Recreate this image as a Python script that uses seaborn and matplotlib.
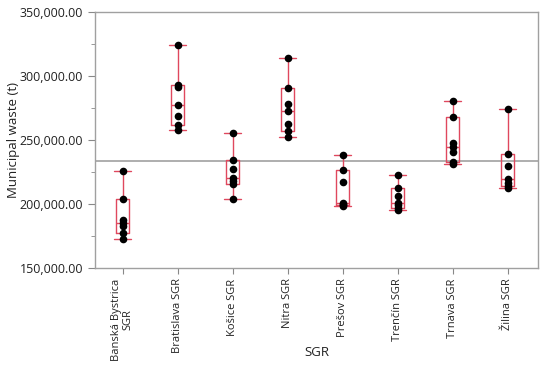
import numpy as np
import pandas as pd
import matplotlib
matplotlib.use("Agg")
import matplotlib.pyplot as plt
import matplotlib.ticker as mticker
import seaborn as sns

categories = ["Banská Bystrica\nSGR", "Bratislava SGR", "Košice SGR", "Nitra SGR",
              "Prešov SGR", "Trenčín SGR", "Trnava SGR", "Žilina SGR"]
banska = [225600, 203900, 187200, 185100, 182700, 177200, 172700]
bratislava = [324000, 293000, 291500, 277000, 268500, 261500, 258000]
kosice = [255800, 234700, 227600, 220400, 217700, 215900, 204000]
nitra = [314300, 290500, 278000, 272800, 262700, 257400, 252200]
presov = [238400, 226600, 217200, 200500, 199800, 199200, 198400]
trencin = [223000, 212500, 206600, 201000, 199200, 197100, 195200]
trnava = [280400, 268000, 247600, 244700, 241000, 232500, 231500]
zilina = [274600, 238900, 229600, 219600, 216400, 213700, 212500]
series = [banska, bratislava, kosice, nitra, presov, trencin, trnava, zilina]

rows = []
for cat, vals in zip(categories, series):
    for v in vals:
        rows.append({"SGR": cat, "waste": v})
df = pd.DataFrame(rows)

sns.set_style("white")
plt.rcParams["font.family"] = ["Open Sans", "DejaVu Sans"]

fig = plt.figure(figsize=(5.5, 3.68), dpi=100)
ax = fig.add_axes([95/550, 1 - 268/368, (538-95)/550, (268-12)/368])

red = "#E0485E"
BW = 0.24
sns.boxplot(data=df, x="SGR", y="waste", order=categories, fill=False, color=red,
            width=BW, whis=(0, 100), linewidth=1.0, showfliers=False, ax=ax,
            medianprops=dict(color=red, lw=1.0),
            whiskerprops=dict(color=red, lw=1.0),
            capprops=dict(color=red, lw=1.0), boxprops=dict(color=red, lw=1.0))

# quartiles in the (n+1)p convention used by the source chart
stats = [np.percentile(v, [25, 50, 75], method="weibull") for v in series]

def idx_of(x):
    return int(round(x))

def fix_box_vertices(verts, i):
    lo, hi = verts[:, 1].min(), verts[:, 1].max()
    q1, _, q3 = stats[i]
    verts[:, 1] = np.where(np.isclose(verts[:, 1], lo), q1, q3)
    return verts

for p in ax.patches:
    path = p.get_path()
    verts = path.vertices.copy()
    if len(verts) < 4:
        continue
    i = idx_of(verts[:, 0].mean())
    if 0 <= i < len(series):
        path.vertices = fix_box_vertices(verts, i)

for line in list(ax.lines):
    xd = np.asarray(line.get_xdata(), dtype=float)
    yd = np.asarray(line.get_ydata(), dtype=float)
    if len(xd) == 0:
        continue
    i = idx_of(xd.mean())
    if not (0 <= i < len(series)):
        continue
    q1, med, q3 = stats[i]
    vmin, vmax = min(series[i]), max(series[i])
    if len(xd) >= 4:  # box outline drawn as a line
        verts = np.column_stack([xd, yd])
        verts = fix_box_vertices(verts, i)
        line.set_ydata(verts[:, 1])
    elif len(xd) == 2 and np.isclose(xd[0], xd[1]):  # whisker
        if np.isclose(yd, vmin).any():
            line.set_ydata([q1, vmin])
        elif np.isclose(yd, vmax).any():
            line.set_ydata([q3, vmax])
    elif len(xd) == 2 and np.isclose(yd[0], yd[1]):
        c = xd.mean()
        if np.isclose(yd[0], vmin) or np.isclose(yd[0], vmax):  # cap
            line.set_xdata([c - 0.15, c + 0.15])
        else:  # median
            line.set_ydata([med, med])

ax.axhline(np.mean(df["waste"]), color="#A8A8A8", lw=1.3, zorder=1)
sns.stripplot(data=df, x="SGR", y="waste", order=categories, jitter=False, color="black",
              size=5.5, ax=ax, zorder=3)

ax.set_ylim(150000, 350000)
ax.set_xlim(-0.5, 7.55)
ax.yaxis.set_major_locator(mticker.MultipleLocator(50000))
ax.yaxis.set_minor_locator(mticker.MultipleLocator(25000))
ax.yaxis.set_major_formatter(mticker.FuncFormatter(lambda v, p: f"{v:,.2f}"))
ax.tick_params(axis="y", which="both", left=True, direction="out", colors="#888888",
               labelcolor="#222222", labelsize=9)
ax.tick_params(axis="y", which="major", length=5)
ax.tick_params(axis="y", which="minor", length=3)
ax.tick_params(axis="x", bottom=True, length=4, colors="#888888", labelcolor="#222222",
               labelsize=8)
plt.setp(ax.get_xticklabels(), rotation=90, ha="center", va="top", multialignment="center",
         linespacing=1.1)
for s in ax.spines.values():
    s.set_color("#A0A0A0")
    s.set_linewidth(1.0)
ax.set_xlabel("SGR", fontsize=9.5, color="#222222", va="center")
ax.set_ylabel("Municipal waste (t)", fontsize=9.5, color="#222222", va="center")
ax.xaxis.set_label_coords(0.5, (268 - 352) / 256)
ax.yaxis.set_label_coords((14 - 95) / 443, 0.5)

fig.savefig("out.png", dpi=100)
